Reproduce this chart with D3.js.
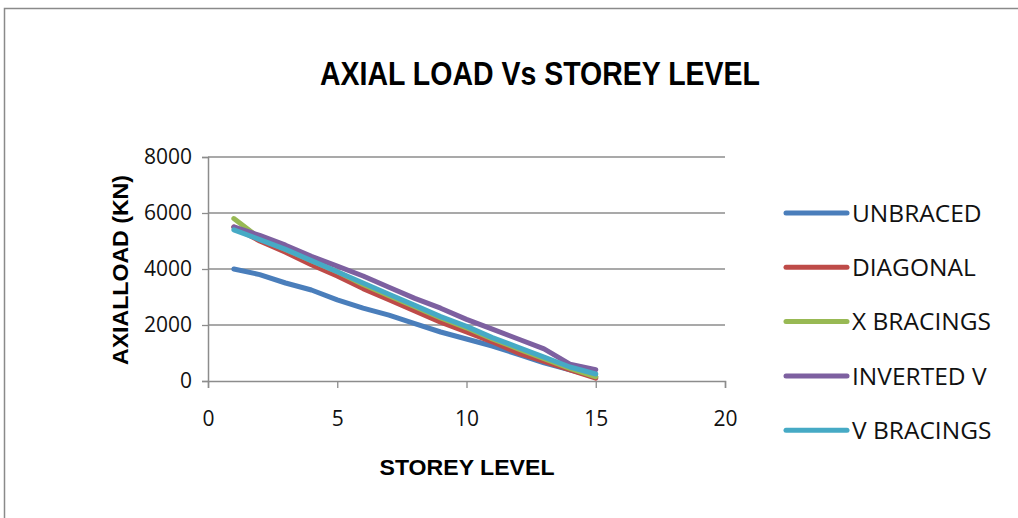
<!DOCTYPE html>
<html>
<head>
<meta charset="utf-8">
<script src="https://cdn.jsdelivr.net/npm/d3@7"></script>
<style>
  html, body { margin: 0; padding: 0; background: #fff; }
  svg { display: block; }
</style>
</head>
<body>
<svg id="chart" width="1018" height="518"></svg>
<script>
// Storey levels and axial load (kN) per bracing system
const storeys = [1, 2, 3, 4, 5, 6, 7, 8, 9, 10, 11, 12, 13, 14, 15];
const unbraced   = [4000, 3800, 3500, 3250, 2900, 2600, 2350, 2050, 1750, 1500, 1250, 950, 650, 400, 150];
const diagonal   = [5500, 5000, 4600, 4150, 3750, 3300, 2900, 2500, 2100, 1750, 1400, 1000, 700, 400, 100];
const xBracings  = [5800, 5100, 4700, 4300, 3900, 3450, 3050, 2650, 2250, 1900, 1500, 1150, 800, 450, 150];
const invertedV  = [5500, 5200, 4850, 4450, 4100, 3750, 3350, 2950, 2600, 2200, 1850, 1500, 1150, 600, 400];
const vBracings  = [5400, 5050, 4700, 4300, 3900, 3500, 3100, 2700, 2300, 1950, 1550, 1200, 850, 500, 250];
const seriesNames = ["UNBRACED", "DIAGONAL", "X BRACINGS", "INVERTED V", "V BRACINGS"];
const xTicks = [0, 5, 10, 15, 20];
const yTicks = [0, 2000, 4000, 6000, 8000];

const seriesValues = [unbraced, diagonal, xBracings, invertedV, vBracings];
const colors = ["#4A7EBB", "#BE4B48", "#98B954", "#7D60A0", "#46AAC5"];

const svg = d3.select("#chart");
const font = "'Open Sans', 'Liberation Sans', sans-serif";
const boldFont = "'Liberation Sans', 'Open Sans', sans-serif";

// Chart frame
svg.append("rect")
  .attr("x", 4.5).attr("y", 8.5)
  .attr("width", 1040).attr("height", 540)
  .attr("fill", "none").attr("stroke", "#8a8a8a").attr("stroke-width", 1.5);

const plot = { left: 208, right: 725, top: 157, bottom: 381 };
const x = d3.scaleLinear().domain([0, 20]).range([plot.left, plot.right]);
const y = d3.scaleLinear().domain([0, 8000]).range([plot.bottom, plot.top]);

// Horizontal gridlines
svg.append("g")
  .selectAll("line")
  .data(yTicks.filter(d => d > 0))
  .join("line")
  .attr("x1", plot.left).attr("x2", plot.right)
  .attr("y1", d => y(d)).attr("y2", d => y(d))
  .attr("stroke", "#8c8c8c").attr("stroke-width", 1.3);

// Axes
const xAxis = svg.append("g")
  .attr("transform", `translate(0,${plot.bottom})`)
  .call(d3.axisBottom(x).tickValues(xTicks).tickSize(7).tickPadding(23).tickFormat(d3.format("d")));
const yAxis = svg.append("g")
  .attr("transform", `translate(${plot.left},0)`)
  .call(d3.axisLeft(y).tickValues(yTicks).tickSize(6).tickPadding(10).tickFormat(d3.format("d")));

[xAxis, yAxis].forEach(g => {
  g.select(".domain").attr("stroke", "#8c8c8c").attr("stroke-width", 1.5);
  g.selectAll(".tick line").attr("stroke", "#8c8c8c").attr("stroke-width", 1.3);
  g.selectAll(".tick text")
    .attr("font-family", font).attr("font-size", 21).attr("fill", "#111");
});

// Series lines
const line = d3.line()
  .x((d, i) => x(storeys[i]))
  .y(d => y(d));

svg.append("g")
  .selectAll("path")
  .data(seriesValues)
  .join("path")
  .attr("d", d => line(d))
  .attr("fill", "none")
  .attr("stroke", (d, i) => colors[i])
  .attr("stroke-width", 5)
  .attr("stroke-linejoin", "round")
  .attr("stroke-linecap", "round");

// Title
svg.append("text")
  .attr("x", 540).attr("y", 85)
  .attr("text-anchor", "middle")
  .attr("font-family", boldFont)
  .attr("font-weight", "bold").attr("font-size", 32.5)
  .attr("textLength", 440).attr("lengthAdjust", "spacingAndGlyphs")
  .attr("fill", "#000")
  .text("AXIAL LOAD Vs STOREY LEVEL");

// Axis titles
svg.append("text")
  .attr("x", 467).attr("y", 475)
  .attr("text-anchor", "middle")
  .attr("font-family", boldFont)
  .attr("font-weight", "bold").attr("font-size", 22.5)
  .attr("textLength", 175).attr("lengthAdjust", "spacingAndGlyphs")
  .attr("fill", "#000")
  .text("STOREY LEVEL");

svg.append("text")
  .attr("transform", "translate(128,270) rotate(-90)")
  .attr("text-anchor", "middle")
  .attr("font-family", boldFont)
  .attr("font-weight", "bold").attr("font-size", 22.5)
  .attr("textLength", 190).attr("lengthAdjust", "spacingAndGlyphs")
  .attr("fill", "#000")
  .text("AXIALLOAD (KN)");

// Legend
const legend = svg.append("g")
  .selectAll("g")
  .data(seriesNames)
  .join("g")
  .attr("transform", (d, i) => `translate(786,${213 + i * 54.3})`);
legend.append("line")
  .attr("x1", 0).attr("x2", 61).attr("y1", 0).attr("y2", 0)
  .attr("stroke", (d, i) => colors[i])
  .attr("stroke-width", 5).attr("stroke-linecap", "round");
legend.append("text")
  .attr("x", 66).attr("y", 0).attr("dy", "0.36em")
  .attr("font-family", font).attr("font-size", 24.5).attr("fill", "#111")
  .text(d => d);
</script>
</body>
</html>
